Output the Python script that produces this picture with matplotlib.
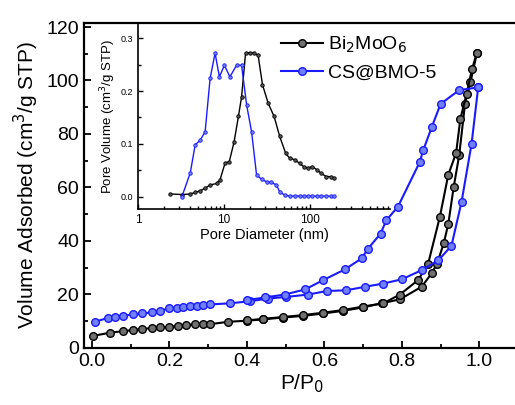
import matplotlib.pyplot as plt
from matplotlib.ticker import MultipleLocator, LogLocator, NullFormatter

plt.rcParams['font.family'] = ['Liberation Sans', 'DejaVu Sans']

# isotherm data (P/P0, volume adsorbed)
BMO_ADS_X = [0.002, 0.046, 0.081, 0.107, 0.128, 0.154, 0.175, 0.2, 0.223, 0.244, 0.266, 0.287,
             0.305, 0.352, 0.4, 0.442, 0.494, 0.545, 0.597, 0.649, 0.70, 0.748, 0.795, 0.851,
             0.877, 0.891, 0.908, 0.92, 0.934, 0.948, 0.963, 0.977, 0.994]
BMO_ADS_Y = [4.4, 5.6, 6.2, 6.6, 7.0, 7.3, 7.6, 7.8, 8.2, 8.5, 8.7, 8.8,
             8.8, 9.7, 10.1, 10.6, 11.3, 11.9, 12.8, 13.8, 15.1, 16.6, 18.1, 22.8,
             27.8, 31.5, 39.0, 46.4, 60.3, 72.0, 91.2, 99.3, 110.4]
BMO_DES_X = [0.994, 0.981, 0.967, 0.951, 0.94, 0.92, 0.898, 0.868, 0.842, 0.795, 0.752,
             0.70, 0.649, 0.597, 0.545, 0.494, 0.442, 0.40]
BMO_DES_Y = [110.4, 104.2, 94.9, 85.6, 72.8, 64.8, 48.9, 31.5, 25.3, 19.9, 16.6,
             15.4, 14.1, 13.1, 12.2, 11.5, 10.8, 10.2]

CS_ADS_X = [0.008, 0.042, 0.059, 0.079, 0.107, 0.128, 0.154, 0.175, 0.2, 0.219, 0.236, 0.253,
            0.27, 0.287, 0.305, 0.356, 0.408, 0.455, 0.502, 0.558, 0.606, 0.657, 0.705, 0.752,
            0.80, 0.851, 0.894, 0.928, 0.954, 0.98, 0.997]
CS_ADS_Y = [9.7, 11.2, 11.6, 11.9, 12.5, 12.8, 13.2, 13.8, 14.7, 14.9, 15.2, 15.6,
            15.7, 15.8, 16.2, 16.6, 17.4, 18.4, 19.0, 19.9, 21.2, 21.5, 22.8, 24.0,
            25.6, 29.0, 32.7, 38.1, 54.5, 76.3, 97.4]
CS_DES_X = [0.997, 0.948, 0.90, 0.877, 0.855, 0.846, 0.79, 0.76, 0.745, 0.713, 0.696, 0.653,
            0.597, 0.55, 0.498, 0.446, 0.40]
CS_DES_Y = [97.4, 96.4, 91.2, 82.5, 73.8, 69.4, 52.8, 47.7, 42.7, 37.1, 33.4, 29.3,
            25.3, 21.8, 19.9, 18.8, 17.8]

# pore size distribution (diameter nm, pore volume)
BMO_PSD_D = [2.38, 3.24, 4.05, 4.62, 5.28, 6.03, 6.89, 8.23, 8.99, 10.3, 11.5, 13.1, 14.7,
             16.0, 17.8, 20.0, 22.2, 24.9, 28.0, 32.6, 38.2, 44.4, 52.1, 57.9, 66.2, 75.7,
             84.1, 94.4, 106, 120, 135, 154, 173, 192]
BMO_PSD_V = [0.005, 0.004, 0.005, 0.008, 0.011, 0.016, 0.022, 0.025, 0.032, 0.064, 0.066,
             0.104, 0.152, 0.189, 0.272, 0.273, 0.272, 0.268, 0.212, 0.177, 0.152, 0.114,
             0.082, 0.073, 0.070, 0.063, 0.057, 0.054, 0.057, 0.051, 0.044, 0.038, 0.038, 0.035]
CS_PSD_D = [3.24, 4.05, 4.62, 5.28, 6.03, 6.89, 7.87, 8.83, 10.1, 11.7, 14.0, 16.0, 18.3,
            20.9, 23.9, 27.3, 31.2, 35.6, 40.7, 44.4, 50.7, 57.9, 66.2, 75.7, 84.1, 94.4,
            106, 120, 135, 154, 173, 192]
CS_PSD_V = [0.0, 0.045, 0.098, 0.107, 0.123, 0.224, 0.272, 0.227, 0.249, 0.227, 0.249, 0.249,
            0.174, 0.123, 0.041, 0.033, 0.028, 0.027, 0.022, 0.009, 0.003, 0.001, 0.001, 0.001,
            0.001, 0.001, 0.001, 0.001, 0.001, 0.001, 0.001, 0.001]

BLACK = 'black'
BLUE = '#1a1aff'

fig = plt.figure(figsize=(5.15, 4.05), dpi=100)
W, H = 515, 405
ax = fig.add_axes([84 / W, (H - 347.7) / H, 436 / W, (347.7 - 23) / H])

bkw = dict(color=BLACK, marker='o', markersize=5.5, markerfacecolor='#707070',
           markeredgecolor=BLACK, markeredgewidth=1.0, linewidth=1.5)
ckw = dict(color=BLUE, marker='o', markersize=5.5, markerfacecolor='#7080ff',
           markeredgecolor=BLUE, markeredgewidth=1.0, linewidth=1.5)
ax.plot(BMO_ADS_X, BMO_ADS_Y, label='Bi$_2$MoO$_6$', **bkw)
ax.plot(BMO_DES_X, BMO_DES_Y, **bkw)
ax.plot(CS_ADS_X, CS_ADS_Y, label='CS@BMO-5', **ckw)
ax.plot(CS_DES_X, CS_DES_Y, **ckw)

ax.set_xlim(-0.0206, 1.105)
ax.set_ylim(0, 121.5)
ax.xaxis.set_major_locator(MultipleLocator(0.2))
ax.xaxis.set_minor_locator(MultipleLocator(0.1))
ax.yaxis.set_major_locator(MultipleLocator(20))
ax.yaxis.set_minor_locator(MultipleLocator(10))
ax.tick_params(which='both', direction='in', labelsize=14, width=1.3)
ax.tick_params(which='major', length=5)
ax.tick_params(which='minor', length=3)
for s in ax.spines.values():
    s.set_linewidth(1.6)
ax.set_xlabel('P/P$_0$', fontsize=15, labelpad=2)
ax.set_ylabel('Volume Adsorbed (cm$^3$/g STP)', fontsize=15, labelpad=4)

leg = ax.legend(loc='upper left', bbox_to_anchor=(0.424, 1.0), frameon=False,
                fontsize=14, handlelength=2.2, handletextpad=0.25, labelspacing=0.45,
                borderaxespad=0.2)

# inset: pore size distribution
ins = fig.add_axes([138 / W, (H - 209.3) / H, (390 - 138) / W, (209.3 - 23) / H])
ins.patch.set_alpha(0)
ins.plot(BMO_PSD_D, BMO_PSD_V, color=BLACK, marker='o', markersize=2.5, markerfacecolor='#555555',
         markeredgewidth=0.6, linewidth=1.0)
ins.plot(CS_PSD_D, CS_PSD_V, color=BLUE, marker='o', markersize=2.5, markerfacecolor='#7080ff',
         markeredgewidth=0.6, linewidth=1.0)
ins.set_xscale('log')
ins.set_xlim(1, 850)
ins.set_ylim(-0.024, 0.329)
ins.spines['top'].set_visible(False)
ins.spines['right'].set_visible(False)
ins.yaxis.set_major_locator(MultipleLocator(0.1))
ins.yaxis.set_minor_locator(MultipleLocator(0.05))
ins.yaxis.set_major_formatter(plt.FormatStrFormatter('%.1f'))
ins.xaxis.set_major_locator(LogLocator(base=10))
ins.xaxis.set_minor_locator(LogLocator(base=10, subs=range(2, 10)))
ins.xaxis.set_minor_formatter(NullFormatter())
ins.xaxis.set_major_formatter(plt.FuncFormatter(lambda v, p: f'{v:g}'))
ins.tick_params(which='both', direction='in', width=1.0)
ins.tick_params(axis='x', labelsize=8.5)
ins.tick_params(axis='y', labelsize=6.5)
ins.tick_params(which='major', length=3.5)
ins.tick_params(which='minor', length=2)
for s in ins.spines.values():
    s.set_linewidth(1.2)
ins.set_xlabel('Pore Diameter (nm)', fontsize=10.5, labelpad=1)
ins.set_ylabel('Pore Volume (cm$^3$/g STP)', fontsize=9.5, labelpad=2)

fig.savefig('out.png', dpi=100)
